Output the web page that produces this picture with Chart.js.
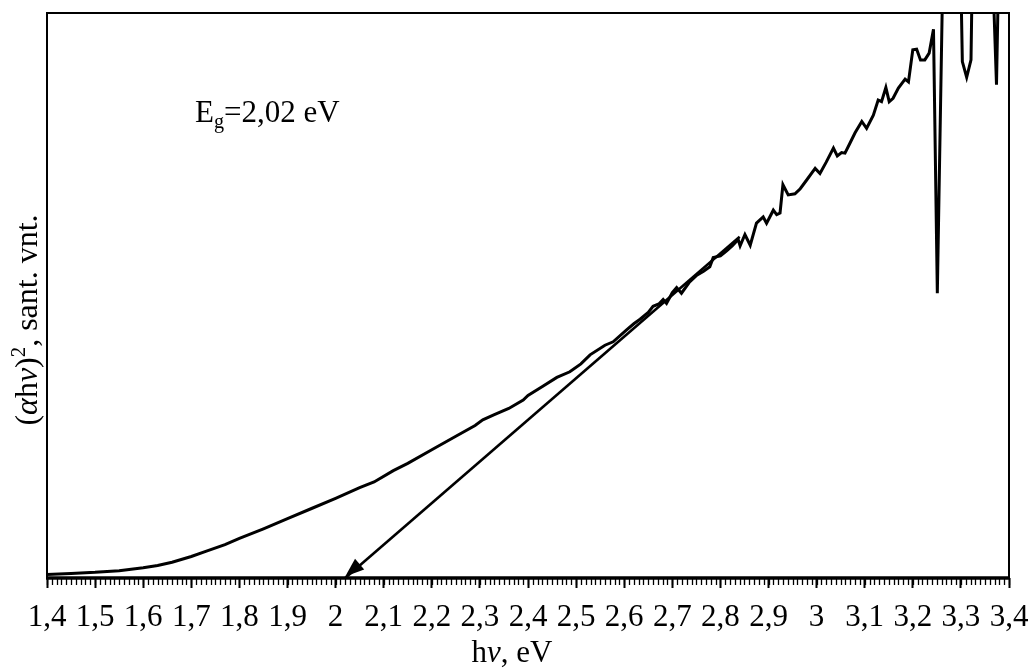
<!DOCTYPE html>
<html>
<head>
<meta charset="utf-8">
<title>Eg plot</title>
<script src="https://cdn.jsdelivr.net/npm/chart.js@4"></script>
<style>
  body { margin: 0; background: #fff; }
  canvas { display: block; }
</style>
</head>
<body>
<canvas id="egChart" width="1033" height="669"></canvas>
<script>
// photon energy, eV
const energy = [1.40, 1.45, 1.50, 1.55, 1.60, 1.63, 1.66, 1.70, 1.73, 1.77, 1.80, 1.85, 1.90, 1.95, 2.00,
    2.05, 2.08, 2.12, 2.15, 2.20, 2.25, 2.29, 2.306, 2.33, 2.36, 2.39, 2.40, 2.43, 2.46, 2.487, 2.51, 2.529,
    2.56, 2.577, 2.605, 2.62, 2.633, 2.65, 2.660, 2.672, 2.681, 2.688, 2.700, 2.709, 2.719, 2.735, 2.751,
    2.765, 2.778, 2.785, 2.800, 2.813, 2.825, 2.837, 2.841, 2.851, 2.862, 2.875, 2.889, 2.896, 2.910,
    2.917, 2.924, 2.930, 2.941, 2.955, 2.966, 2.979, 2.997, 3.007, 3.020, 3.035, 3.043, 3.052, 3.059,
    3.069, 3.080, 3.094, 3.104, 3.118, 3.128, 3.135, 3.144, 3.151, 3.159, 3.170, 3.184, 3.191, 3.200,
    3.208, 3.216, 3.225, 3.234, 3.243, 3.251, 3.264, 3.280, 3.298, 3.303, 3.312, 3.321, 3.325, 3.345,
    3.363, 3.374, 3.380, 3.400];
// (alpha*h*nu)^2, arbitrary units
const absorption = [0.6, 0.8, 1.0, 1.3, 1.8, 2.2, 2.8, 3.8, 4.7, 5.9, 7.0, 8.7, 10.5, 12.3, 14.1,
    16.0, 17.0, 19.0, 20.3, 22.7, 25.1, 27.0, 28.0, 28.9, 30.0, 31.5, 32.3, 33.9, 35.5, 36.5, 37.9, 39.5,
    41.2, 41.8, 43.9, 45.0, 45.8, 47.0, 48.1, 48.5, 49.3, 48.6, 50.5, 51.4, 50.4, 52.3, 53.6,
    54.3, 55.1, 56.7, 57.0, 57.9, 58.8, 59.9, 58.8, 60.8, 58.9, 62.8, 63.9, 62.8, 65.1,
    64.3, 64.6, 69.6, 67.8, 68.0, 68.9, 70.4, 72.5, 71.6, 73.6, 76.1, 74.7, 75.3, 75.2,
    76.9, 78.8, 80.8, 79.6, 81.9, 84.6, 84.3, 86.8, 84.3, 84.9, 86.7, 88.3, 87.8, 93.5,
    93.6, 91.7, 91.7, 92.9, 97.1, 50.4, 115, 120, 115, 91.4, 88.6, 91.7, 115, 120,
    115, 87.3, 115, 120];
// linear fit extrapolated to the energy axis
const tangentX = [2.02, 2.84];
const tangentY = [0, 60.4];
const xTickLabels = ['1,4', '1,5', '1,6', '1,7', '1,8', '1,9', '2', '2,1', '2,2', '2,3', '2,4',
    '2,5', '2,6', '2,7', '2,8', '2,9', '3', '3,1', '3,2', '3,3', '3,4'];

const serif = "'Liberation Serif', 'Times New Roman', serif";

// width of a line of text made of runs (italic / sup / sub)
function measureRuns(ctx, runs, size) {
    let w = 0;
    runs.forEach(r => {
        const s = r.script ? size * 0.65 : size;
        ctx.font = (r.italic ? 'italic ' : '') + s + 'px ' + serif;
        w += ctx.measureText(r.text).width;
    });
    return w;
}
function paintRuns(ctx, runs, x, y, size) {
    let cx = x;
    runs.forEach(r => {
        const s = r.script ? size * 0.65 : size;
        ctx.font = (r.italic ? 'italic ' : '') + s + 'px ' + serif;
        let dy = 0;
        if (r.script === 'sup') dy = -size * 0.38;
        if (r.script === 'sub') dy = size * 0.2;
        ctx.fillText(r.text, cx, y + dy);
        cx += ctx.measureText(r.text).width;
    });
}

const decorations = {
    id: 'decorations',
    afterDraw(chart) {
        const ctx = chart.ctx;
        const area = chart.chartArea;
        const xs = chart.scales.x;
        const ys = chart.scales.y;
        ctx.save();
        ctx.strokeStyle = '#000';
        ctx.fillStyle = '#000';

        // frame
        ctx.lineWidth = 2;
        ctx.strokeRect(area.left, area.top, area.right - area.left, area.bottom - area.top);
        ctx.lineWidth = 3.5;
        ctx.beginPath();
        ctx.moveTo(area.left - 1, area.bottom);
        ctx.lineTo(area.right + 1, area.bottom);
        ctx.stroke();

        // minor ticks every 0.01 eV
        ctx.lineWidth = 1.3;
        for (let i = 0; i <= 200; i++) {
            const px = Math.round(xs.getPixelForValue(1.4 + i * 0.01)) + 0.5;
            ctx.beginPath();
            ctx.moveTo(px, area.bottom);
            ctx.lineTo(px, area.bottom + 7);
            ctx.stroke();
        }

        // arrow head at the intercept
        const tx = xs.getPixelForValue(tangentX[0]);
        const ty = ys.getPixelForValue(tangentY[0]) - 1.5;
        const bx = xs.getPixelForValue(tangentX[1]);
        const by = ys.getPixelForValue(tangentY[1]);
        const ang = Math.atan2(by - ty, bx - tx);
        const len = 19, half = 7;
        ctx.beginPath();
        ctx.moveTo(tx, ty);
        ctx.lineTo(tx + len * Math.cos(ang) - half * Math.sin(ang), ty + len * Math.sin(ang) + half * Math.cos(ang));
        ctx.lineTo(tx + len * Math.cos(ang) + half * Math.sin(ang), ty + len * Math.sin(ang) - half * Math.cos(ang));
        ctx.closePath();
        ctx.fill();

        // band gap label
        ctx.textBaseline = 'alphabetic';
        ctx.textAlign = 'left';
        paintRuns(ctx, [
            { text: 'E' }, { text: 'g', script: 'sub' }, { text: '=2,02 eV' }
        ], 195, 122, 31);

        // x title
        const xTitle = [{ text: 'h' }, { text: 'ν', italic: true }, { text: ', eV' }];
        const xw = measureRuns(ctx, xTitle, 31);
        paintRuns(ctx, xTitle, 512 - xw / 2, 662, 31);

        // y title
        const yTitle = [{ text: '(' }, { text: 'α', italic: true }, { text: 'h' }, { text: 'ν', italic: true },
            { text: ')' }, { text: '2', script: 'sup' }, { text: ', sant. vnt.' }];
        const yw = measureRuns(ctx, yTitle, 32);
        ctx.translate(37, 320);
        ctx.rotate(-Math.PI / 2);
        paintRuns(ctx, yTitle, -yw / 2, 0, 32);
        ctx.restore();
    }
};

new Chart(document.getElementById('egChart'), {
    type: 'line',
    data: {
        datasets: [{
            label: 'spectrum',
            data: energy.map((e, i) => ({ x: e, y: absorption[i] })),
            borderColor: '#000',
            borderWidth: 3,
            pointRadius: 0,
            tension: 0,
            fill: false
        }, {
            label: 'tangent',
            data: tangentX.map((e, i) => ({ x: e, y: tangentY[i] })),
            borderColor: '#000',
            borderWidth: 2.6,
            pointRadius: 0,
            fill: false,
            clip: false
        }]
    },
    options: {
        responsive: false,
        animation: false,
        layout: { padding: { left: 47, right: 24, top: 13, bottom: 0 } },
        plugins: { legend: { display: false }, tooltip: { enabled: false } },
        scales: {
            x: {
                type: 'linear',
                min: 1.4,
                max: 3.4,
                afterFit(scale) {
                    scale.height = 91;
                    scale.paddingLeft = 0;
                    scale.paddingRight = 0;
                },
                border: { display: false },
                grid: {
                    drawOnChartArea: false,
                    drawTicks: true,
                    tickLength: 10,
                    tickWidth: 2,
                    tickColor: '#000'
                },
                ticks: {
                    stepSize: 0.1,
                    autoSkip: false,
                    maxRotation: 0,
                    padding: 11,
                    color: '#000',
                    font: { family: serif, size: 31 },
                    callback: v => xTickLabels[Math.round((v - 1.4) * 10)]
                }
            },
            y: {
                display: false,
                min: 0,
                max: 100
            }
        }
    },
    plugins: [decorations]
});
</script>
</body>
</html>
